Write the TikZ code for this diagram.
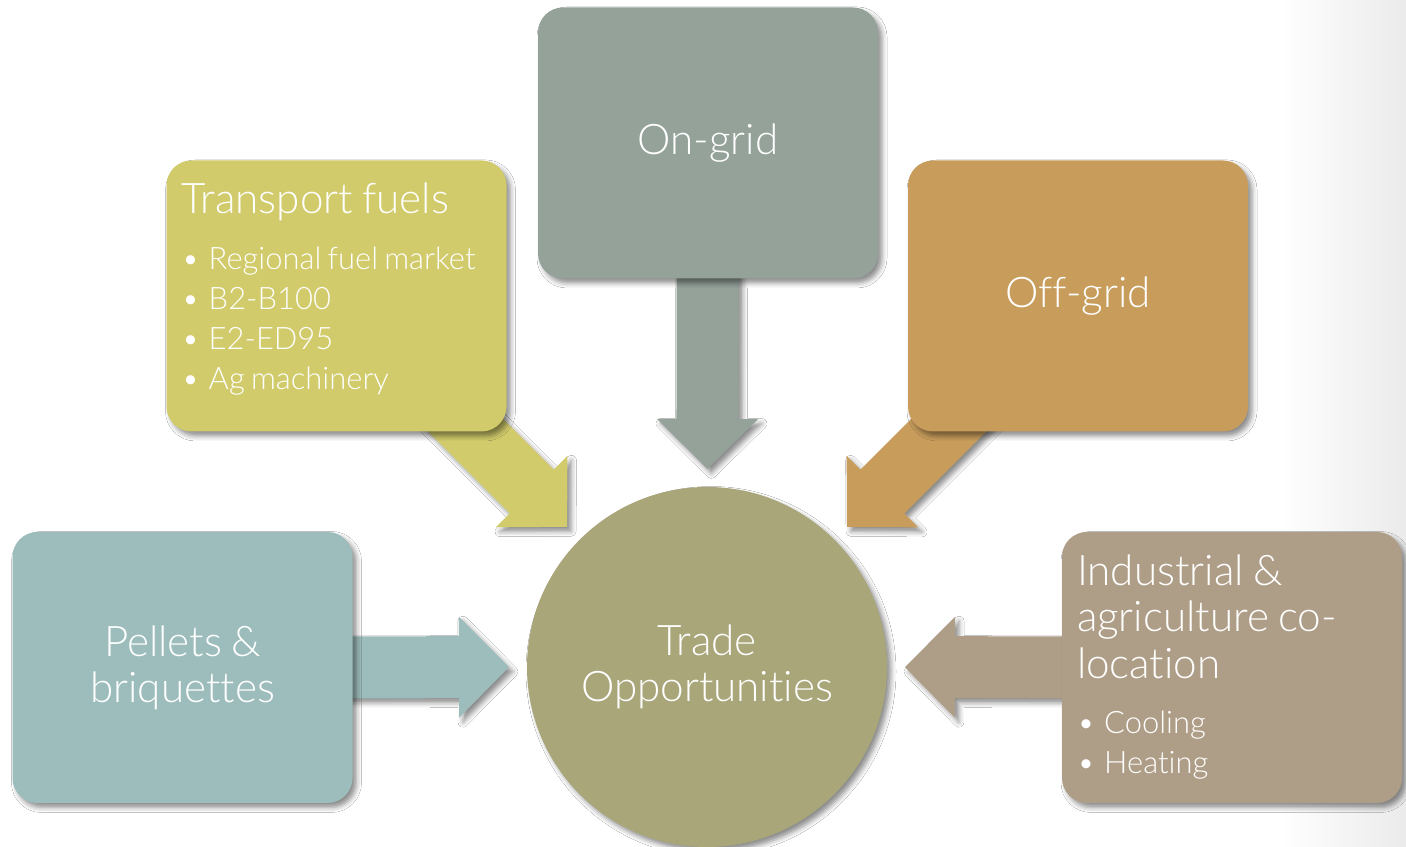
\documentclass[tikz,border=0pt]{standalone}
\usepackage{fontspec}
\setmainfont{Lato Light}[Ligatures=NoCommon]
\usetikzlibrary{calc,shadows.blur}
\pgfdeclarelayer{background}
\pgfsetlayers{background,main}
\definecolor{ongridcol}{RGB}{148,162,154}
\definecolor{transportcol}{RGB}{209,203,107}
\definecolor{offgridcol}{RGB}{200,157,92}
\definecolor{pelletcol}{RGB}{157,189,188}
\definecolor{industrycol}{RGB}{175,158,135}
\definecolor{tradecol}{RGB}{169,166,122}
\newcommand{\titlesize}[0]{\fontsize{12}{13.1}\selectfont\spaceskip=0.22em plus 0.05em}
\newcommand{\itemsize}[0]{\fontsize{8.8}{11.4}\selectfont\spaceskip=0.2em plus 0.05em}
\newcommand{\bul}[0]{\textbullet\hspace{0.3em}}
\newcommand{\blockarrow}[3]{%
  \coordinate (tip) at ($(#3.center)!1.98cm!(#2.center)$);
  \coordinate (base) at ($(tip)!0.5cm!(#2.center)$);
  \fill[#1, softshadow]
    ($(#2.center)!0.31cm!90:(tip)$) -- ($(base)!0.31cm!90:(tip)$)
    -- ($(base)!0.505cm!90:(tip)$) -- (tip)
    -- ($(base)!0.505cm!-90:(tip)$) -- ($(base)!0.31cm!-90:(tip)$)
    -- ($(#2.center)!0.31cm!-90:(tip)$) -- cycle;
}

\begin{document}
\begin{tikzpicture}
  \tikzset{
    softshadow/.style={blur shadow={shadow xshift=0.04cm, shadow yshift=-0.045cm,
      shadow blur radius=0.05cm, shadow opacity=45}},
    tile/.style={rectangle, rounded corners=0.25cm, minimum width=3.4cm,
      minimum height=2.71cm, inner sep=0.15cm, text=white, softshadow},
    listtile/.style={tile, text width=3.1cm, align=left},
    hub/.style={circle, minimum size=3.6cm, inner sep=0pt, text=white,
      align=center, font=\titlesize, softshadow}
  }
  \useasboundingbox (0,0) rectangle (14.06,8.47);

  \node[hub, fill=tradecol] (trade) at (7.07,1.80) {Trade\\Opportunities};
  \node[tile, fill=ongridcol, font=\titlesize] (ongrid) at (7.08,7.04) {On-grid};
  \node[tile, fill=offgridcol, font=\titlesize] (offgrid) at (10.78,5.51) {Off-grid};
  \node[tile, fill=pelletcol, font=\titlesize, align=center] (pellets)
    at (1.825,1.795) {Pellets \&\\briquettes};
  \node[listtile, fill=transportcol] (transport) at (3.365,5.51) {%
    {\titlesize Transport fuels\par}\vspace{4.5pt}
    {\itemsize \bul Regional fuel market\\
      \bul B2-B100\\
      \bul E2-ED95\\
      \bul Ag machinery\par}\vspace{4pt}};
  \node[listtile, fill=industrycol] (industry) at (12.32,1.795) {%
    {\titlesize Industrial \&\\agriculture co-\\location\par}\vspace{4.5pt}
    {\itemsize \bul Cooling\\
      \bul Heating\par}};

  \begin{pgfonlayer}{background}
    \fill[white] (0,0) rectangle (14.06,8.47);
    \shade[left color=white, right color=black!8] (12.8,0) rectangle (14.06,8.47);
    \blockarrow{ongridcol}{ongrid}{trade}
    \blockarrow{transportcol}{transport}{trade}
    \blockarrow{offgridcol}{offgrid}{trade}
    \blockarrow{pelletcol}{pellets}{trade}
    \blockarrow{industrycol}{industry}{trade}
  \end{pgfonlayer}
\end{tikzpicture}
\end{document}
